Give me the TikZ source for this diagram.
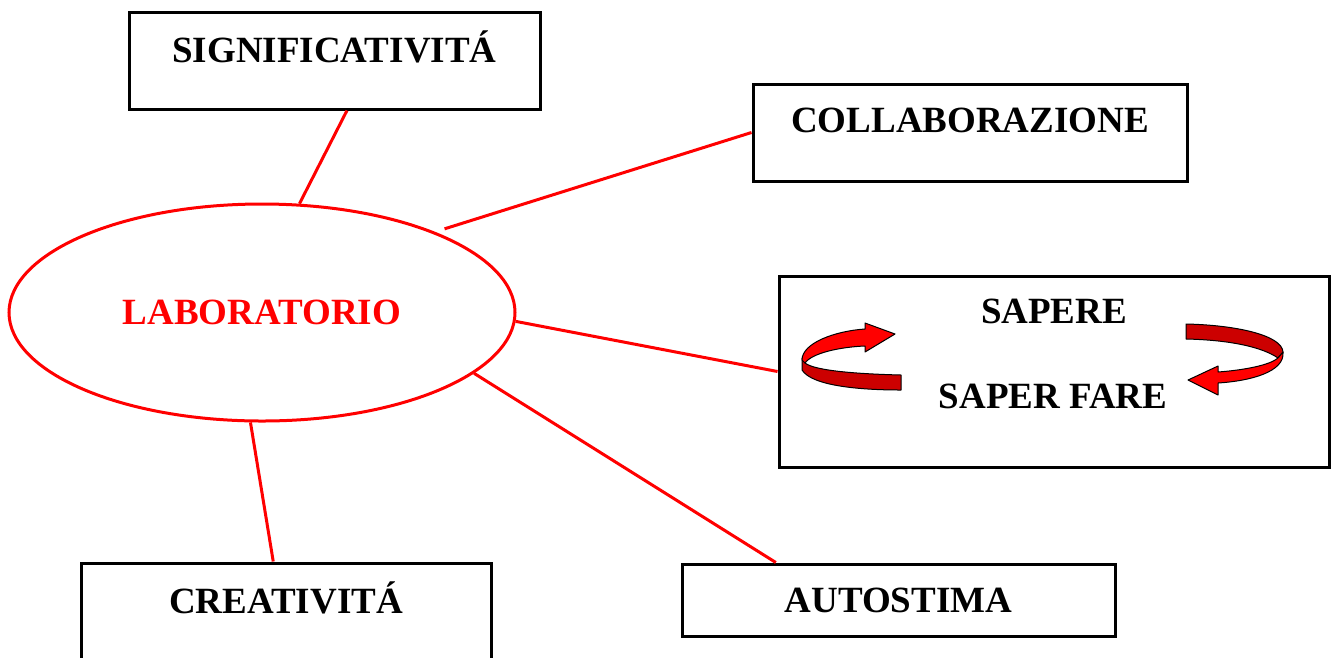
\documentclass[tikz,border=0pt]{standalone}
\usepackage{fontspec}
\setmainfont{Liberation Serif}
\usetikzlibrary{shapes.geometric}

\begin{document}
\begin{tikzpicture}[x=1pt,y=-1pt,
		txt/.style={font=\bfseries\fontsize{37}{44}\selectfont},
		box/.style={txt,draw,line width=3pt,inner sep=0pt},
		redline/.style={red,line width=3pt},
		ribbon/.style={draw=black,line width=1pt,line join=round}]
		\useasboundingbox (0,0) rectangle (1332,657);
		\clip (0,0) rectangle (1332,657);
		\node[box,minimum width=411,text height=50,text depth=47] (sig) at (334.5,60.5) {SIGNIFICATIVITÁ};
		\node[box,minimum width=434,text height=48,text depth=49] (collab) at (970,132.5) {COLLABORAZIONE};
		\node[box,minimum width=550,minimum height=191] (sap) at (1054,371.5) {};
		\node[txt,anchor=base] (sapere) at (1054,323) {SAPERE};
		\node[txt,anchor=base] (saperfare) at (1053,408) {SAPER FARE};
		\node[box,minimum width=433,text height=48,text depth=24] (auto) at (898.5,600) {AUTOSTIMA};
		\node[box,minimum width=410,text height=50,text depth=67] (crea) at (286,621.5) {CREATIVITÁ};
		\node[txt,ellipse,draw=red,text=red,line width=3pt,minimum width=506,minimum height=217,inner sep=0pt] (lab) at (262,312.5) {LABORATORIO};
		
		\draw[redline] (lab.71.5) -- (sig.-76.4);
		\draw[redline,shorten <=10pt] (lab.25) -- (collab.west);
		\draw[redline] (lab.-2.4) -- (sap.west);
		\draw[redline] (lab.-16.4) -- (auto.163.6);
		\draw[redline] (lab.-96.3) -- (crea.102.5);
		
		\filldraw[ribbon,fill=red!80!black] (802,358) -- (802,370) .. controls (812,386) and (860,390) .. (901,390) -- (901,375) .. controls (860,374) and (815,371) .. (805,363) -- cycle;
		\filldraw[ribbon,fill=red] (802,360) .. controls (802,343) and (835,331) .. (865,329) -- (865,323) -- (895,334) -- (865,352) -- (865,346) .. controls (840,347) and (812,353) .. (805,363) -- cycle;
		\filldraw[ribbon,fill=red!80!black] (1186,324) .. controls (1235,325) and (1282,335) .. (1283,352) -- (1278,358) .. controls (1262,347) and (1230,340) .. (1186,339) -- cycle;
		\filldraw[ribbon,fill=red] (1283,352) .. controls (1285,372) and (1250,381) .. (1218,383) -- (1218,395) -- (1188,380) -- (1218,366) -- (1218,372) .. controls (1245,370) and (1270,365) .. (1278,358) -- cycle;
\end{tikzpicture}
\end{document}
